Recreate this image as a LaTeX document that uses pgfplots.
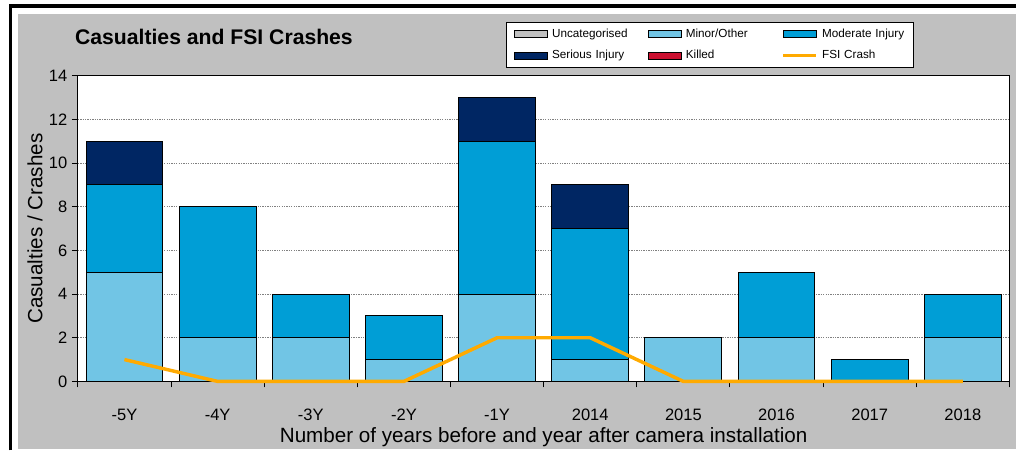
\documentclass[border=0pt]{standalone}
\usepackage{pgfplots}
\pgfplotsset{compat=1.18}
\usepackage{fontspec}
\setmainfont{Liberation Sans}
\definecolor{bggray}{RGB}{192,192,192}
\definecolor{minorc}{RGB}{113,197,229}
\definecolor{moderatec}{RGB}{0,158,214}
\definecolor{seriousc}{RGB}{0,38,99}
\definecolor{killedc}{RGB}{204,16,48}
\definecolor{uncatc}{RGB}{192,192,192}
\definecolor{fsic}{RGB}{255,170,0}
\pgfplotsset{
  mybarleg/.style={legend image code/.code={\draw[##1,line width=0.75pt] (0pt,-2.6pt) rectangle (24.75pt,2.6pt);}},
  mylineleg/.style={legend image code/.code={\draw[##1] (0pt,0pt) -- (24.75pt,0pt);}},
}
\begin{document}
\begin{tikzpicture}[x=0.75pt,y=0.75pt]
\fill[white] (0,0) rectangle (1018,451);
\fill[bggray] (18,1) rectangle (1018,437);
\draw[line width=2.4pt] (10.5,0) -- (10.5,445) -- (1018,445);
\begin{axis}[
  at={(58.5pt,51.75pt)}, anchor=south west,
  scale only axis, width=699.75pt, height=229.5pt,
  ybar stacked, bar width=57.75pt,
  xmin=-0.5, xmax=9.5, ymin=0, ymax=14,
  xtick={0,...,9},
  xticklabels={-5Y,-4Y,-3Y,-2Y,-1Y,2014,2015,2016,2017,2018},
  minor xtick={-0.5,0.5,...,9.5},
  major x tick style={draw=none},
  ytick={0,2,...,14},
  tick align=outside, tick pos=left,
  major tick length=4.5pt, minor tick length=4.5pt,
  ymajorgrids, grid style={gray, line width=0.6pt, dash pattern=on 1pt off 0.8pt},
  axis background/.style={fill=white},
  axis line style={black, line width=0.75pt},
  every tick/.style={black, line width=0.75pt},
  ticklabel style={font=\fontsize{12.4}{14}\selectfont},
  xticklabel style={yshift=-13pt},
  /pgf/number format/assume math mode=true,
  title={Casualties and FSI Crashes},
  title style={at={(-0.0032,1.078)}, anchor=base west, inner sep=0pt, font=\bfseries\fontsize{15.9}{18}\selectfont},
  xlabel={Number of years before and year after camera installation},
  xlabel style={at={(0.5,-0.199)}, anchor=base, inner sep=0pt, font=\fontsize{15.5}{18}\selectfont},
  ylabel={Casualties / Crashes},
  ylabel style={at={(-0.0461,0.5)}, anchor=center, inner sep=0pt, font=\fontsize{15.5}{18}\selectfont},
  legend columns=3,
  legend style={at={(0.4598,1.1765)}, anchor=north west, draw=black, line width=0.9pt, fill=white,
    font=\fontsize{8.8}{10}\selectfont, inner xsep=5.5pt, inner ysep=3pt, row sep=4pt,
    nodes={inner xsep=0pt, text width=63pt, align=left},
    /tikz/every odd column/.style={column sep=3pt},
    /tikz/every even column/.style={column sep=9pt}},
  legend cell align=left,
]
\addplot[fill=uncatc, draw=black, line width=0.75pt, mybarleg] coordinates {(0,0)(1,0)(2,0)(3,0)(4,0)(5,0)(6,0)(7,0)(8,0)(9,0)};
\addlegendentry{Uncategorised}
\addplot[fill=minorc, draw=black, line width=0.75pt, mybarleg] coordinates {(0,5)(1,2)(2,2)(3,1)(4,4)(5,1)(6,2)(7,2)(8,0)(9,2)};
\addlegendentry{Minor/Other}
\addplot[fill=moderatec, draw=black, line width=0.75pt, mybarleg] coordinates {(0,4)(1,6)(2,2)(3,2)(4,7)(5,6)(6,0)(7,3)(8,1)(9,2)};
\addlegendentry{Moderate Injury}
\addplot[fill=seriousc, draw=black, line width=0.75pt, mybarleg] coordinates {(0,2)(1,0)(2,0)(3,0)(4,2)(5,2)(6,0)(7,0)(8,0)(9,0)};
\addlegendentry{Serious Injury}
\addplot[fill=killedc, draw=black, line width=0.75pt, mybarleg] coordinates {(0,0)(1,0)(2,0)(3,0)(4,0)(5,0)(6,0)(7,0)(8,0)(9,0)};
\addlegendentry{Killed}
\addlegendimage{fsic, line width=2.6pt, mylineleg}
\addlegendentry{FSI Crash}
\end{axis}
\begin{axis}[
  at={(58.5pt,51.75pt)}, anchor=south west,
  scale only axis, width=699.75pt, height=229.5pt,
  xmin=-0.5, xmax=9.5, ymin=0, ymax=14,
  axis lines=none, ticks=none, clip=false,
]
\addplot[fsic, line width=2.6pt, mark=none] coordinates {(0,1)(1,0)(2,0)(3,0)(4,2)(5,2)(6,0)(7,0)(8,0)(9,0)};
\end{axis}
\end{tikzpicture}
\end{document}
